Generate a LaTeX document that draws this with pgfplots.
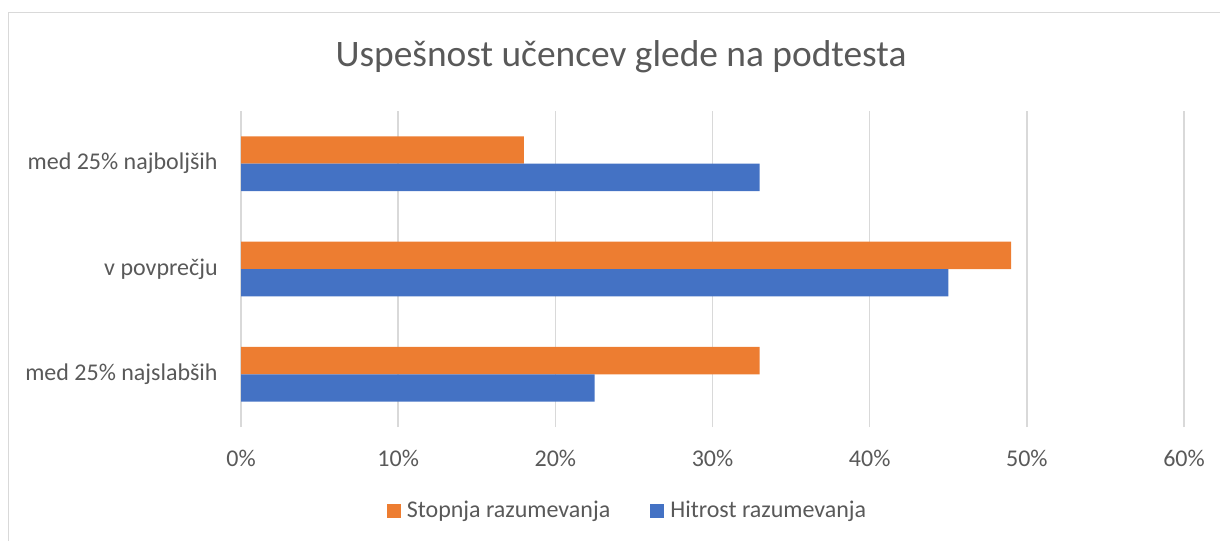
\documentclass[border=0pt]{standalone}
\usepackage{pgfplots}
\pgfplotsset{compat=1.18}
\usepackage{fontspec}
\setmainfont{Carlito}
\definecolor{orng}{HTML}{ED7D31}
\definecolor{blu}{HTML}{4472C4}
\definecolor{txt}{HTML}{595959}
\definecolor{grd}{HTML}{D9D9D9}
\newcommand{\lbl}{\fontsize{12}{14}\selectfont}
\begin{document}
\begin{tikzpicture}
\useasboundingbox (0pt,0pt) rectangle (610pt,270.5pt);
\draw[grd, line width=0.9pt] (4.25pt,0pt) -- (4.25pt,264.25pt) -- (610pt,264.25pt);
\node[text=txt, font=\fontsize{18.7}{22}\selectfont] at (310.5pt,242pt) {Uspešnost učencev glede na podtesta};
\begin{axis}[
  at={(120.5pt,57pt)}, anchor=south west,
  scale only axis, width=471.5pt, height=158pt,
  xbar, bar width=0.26,
  xmin=0, xmax=60, ymin=-0.5, ymax=2.5,
  xtick={0,10,...,60},
  xticklabel={\pgfmathprintnumber[assume math mode=true]{\tick}\%},
  ytick={0,1,2},
  yticklabels={med 25\% najslabših, v povprečju, med 25\% najboljših},
  xmajorgrids, grid style={grd, line width=0.75pt},
  axis line style={draw=none},
  major tick length=0pt,
  ticklabel style={font=\lbl, text=txt},
  yticklabel style={anchor=east, inner sep=0pt, xshift=-11.5pt},
  xticklabel style={anchor=center, inner sep=0pt, yshift=-15.5pt},
  legend columns=2,
  legend style={at={(0.4088,-0.266)}, anchor=center, draw=none, fill=none,
    font=\lbl, text=txt,
    /tikz/every even column/.append style={column sep=20pt},
    nodes={inner sep=0pt}},
  legend image code/.code={\fill[#1] (0pt,-3.5pt) rectangle (7pt,3.5pt);},
  legend cell align=left,
]
\addplot[fill=orng, draw=none, bar shift=0.13] coordinates {(33,0) (49,1) (18,2)};
\addlegendentry{\hspace{3pt}Stopnja razumevanja}
\addplot[fill=blu, draw=none, bar shift=-0.13] coordinates {(22.5,0) (45,1) (33,2)};
\addlegendentry{\hspace{3pt}Hitrost razumevanja}
\end{axis}
\end{tikzpicture}
\end{document}
